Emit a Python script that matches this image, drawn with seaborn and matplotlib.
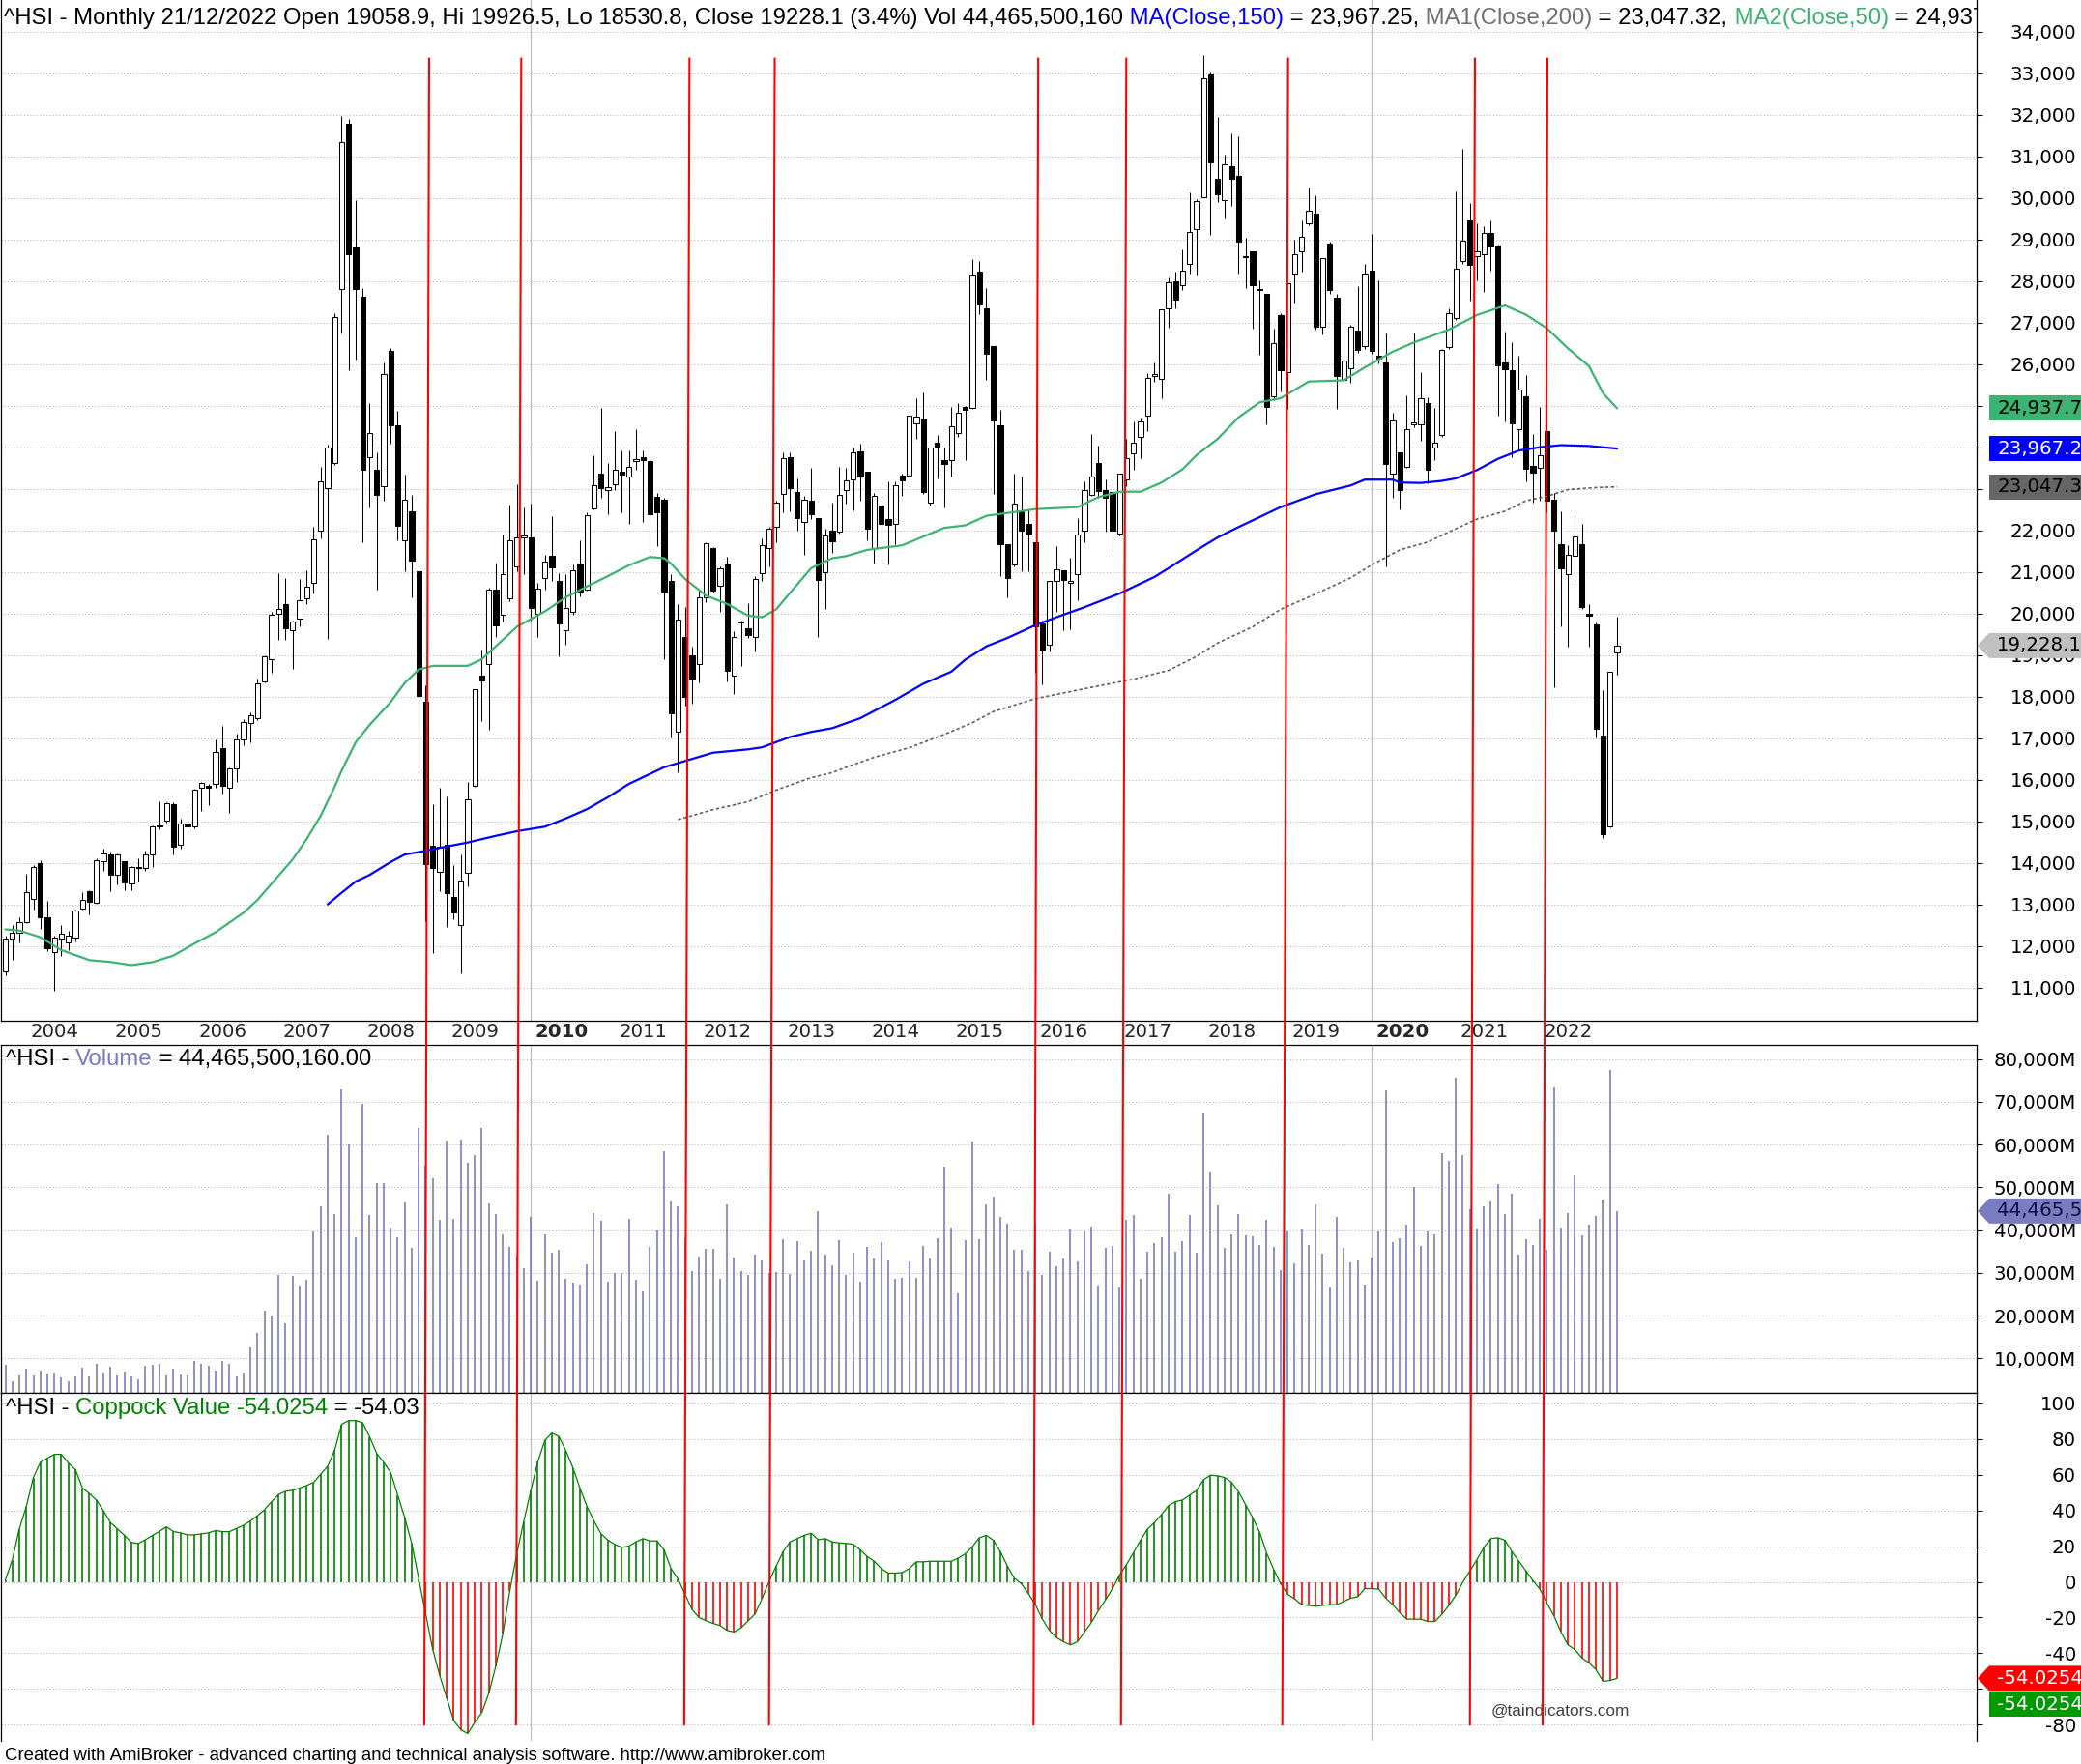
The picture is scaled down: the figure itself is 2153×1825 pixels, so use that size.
import numpy as np
import pandas as pd
import matplotlib
matplotlib.use("Agg")
import matplotlib.pyplot as plt
import matplotlib.transforms as mtransforms
from matplotlib.patches import Polygon, ConnectionPatch
import seaborn as sns

# Hang Seng Index monthly bars, Oct 2003 .. Dec 2022
first_month = "2003-10"

opens = [
    11380, 12190, 12317,
    12576, 13140, 14000, 12680, 11850, 12180, 12080, 12210, 12900, 13310, 13030, 14040,
    14200, 13720, 14040, 13500, 13908, 13870, 14200, 14880, 15010, 15400, 14440, 14937,
    14876, 15800, 15850, 15890, 16750, 15800, 16270, 16970, 17370, 17480, 18370, 18890,
    19990, 20230, 19600, 19880, 20360, 20740, 21990, 23010, 23610, 27800, 31790, 28800,
    27620, 23760, 23450, 23060, 26313, 24520, 21770, 22460, 21020, 17870, 14410, 13780,
    14440, 13190, 12500, 13750, 15860, 18500, 18780, 20570, 19962, 20355, 21141, 21830,
    21830, 19994, 20858, 21393, 20780, 19600, 20040, 21204, 20575, 22524, 23373, 22980,
    23106, 23420, 23295, 23656, 23766, 23672, 22807, 22744, 20780, 17163, 19444, 19003,
    18783, 20386, 21566, 20669, 21204, 18500, 19790, 19648, 19444, 20968, 21566, 22084,
    22870, 23750, 22933, 22194, 22713, 22304, 20984, 21990, 21958, 22980, 23216, 23908,
    23420, 21566, 22587, 22273, 22163, 23326, 23326, 24584, 24678, 22666, 24113, 23688,
    23688, 24348, 24960, 24945, 28215, 27350, 26439, 24521, 21675, 21173, 22461, 22147,
    21723, 19758, 19239, 20780, 21047, 20748, 20937, 21990, 22854, 23609, 22980, 22933,
    21927, 23216, 23845, 24238, 24757, 25720, 25653, 27335, 27995, 27901, 28404, 29237,
    30023, 32962, 30447, 29945, 30762, 30526, 28593, 28718, 27806, 27696, 25228, 27178,
    25810, 28168, 28718, 29378, 29630, 26910, 28907, 27586, 25621, 25888, 26800, 26439,
    28247, 26203, 26045, 23373, 23876, 23530, 24560, 24552, 25056, 24002, 24285, 26407,
    27099, 28482, 29457, 28608, 28639, 29158, 28844, 26045, 25857, 24442, 25228, 23562,
    23499, 24395, 22744, 21675, 20937, 21393, 21675, 19994, 19727, 17054, 14884, 19058.9,
]

highs = [
    12260, 12500, 12680,
    13740, 13940, 14060, 13090, 12260, 12500, 12360, 12880, 13290, 13330, 14100, 14340,
    14270, 14230, 14040, 13930, 14100, 14290, 14900, 15470, 15450, 15466, 15070, 15240,
    15780, 15950, 15900, 16960, 17300, 16300, 17100, 17460, 17630, 18430, 19000, 20050,
    20970, 20860, 19840, 20830, 21050, 22085, 23530, 24060, 27230, 31960, 31900, 29945,
    27820, 25070, 23870, 26050, 26390, 24870, 23330, 22860, 21050, 18270, 15400, 15800,
    15600, 13940, 14200, 15950, 18180, 19130, 20620, 21200, 21900, 22620, 23100, 22556,
    22634, 20733, 21408, 22351, 20968, 20937, 21173, 21770, 22430, 23813, 24945, 23610,
    24395, 23924, 23924, 24442, 23924, 23700, 22900, 22776, 20937, 20229, 20151, 19208,
    20575, 21723, 21600, 21141, 21361, 19570, 19836, 20260, 20890, 21801, 22084, 22713,
    23876, 23876, 23247, 22823, 23499, 22304, 22037, 22666, 23530, 23499, 24002, 24081,
    23420, 22902, 22823, 23184, 23184, 23373, 24867, 25181, 25323, 23998, 24285, 24002,
    24976, 25071, 25000, 28529, 28482, 27822, 26439, 24898, 21675, 23373, 23294, 22508,
    21723, 19836, 20780, 21613, 21047, 21330, 22304, 23184, 24317, 24034, 23216, 23216,
    23373, 24191, 24631, 24710, 25779, 26045, 27324, 28089, 28215, 28765, 30133, 29976,
    33434, 33025, 31940, 31045, 31548, 31470, 29032, 28718, 28011, 27696, 26863, 27225,
    27942, 29001, 29457, 30243, 30054, 28561, 28954, 27696, 27335, 26957, 27885, 28404,
    29143, 28011, 26753, 24820, 23876, 25260, 26753, 25810, 25212, 24945, 26360, 27335,
    30164, 31183, 29866, 29378, 29315, 29457, 28875, 26785, 26517, 26203, 25731, 24317,
    24976, 25024, 22901, 22461, 21644, 22398, 22147, 20229, 19790, 18154, 18597, 19926.5,
]

lows = [
    11300, 11670, 12090,
    12560, 12870, 12400, 11880, 10920, 11770, 11900, 12100, 12870, 12770, 13020, 13800,
    13310, 13470, 13340, 13340, 13550, 13800, 13900, 14800, 14970, 14208, 14330, 14850,
    14830, 15260, 15390, 15800, 15670, 15200, 15950, 16820, 16900, 17440, 18340, 18580,
    19370, 19370, 18660, 19680, 20230, 20470, 21800, 19390, 23570, 26750, 25860, 26120,
    21709, 22560, 20572, 22710, 24080, 21770, 21015, 20390, 16270, 12600, 11820, 13310,
    12450, 12650, 11344, 13440, 15830, 17400, 17210, 19440, 19800, 20300, 21015, 20937,
    19836, 19444, 20575, 20780, 18972, 19255, 19962, 20418, 20544, 22508, 22776, 22398,
    22980, 22430, 22147, 23452, 22200, 21487, 21613, 18893, 17007, 16170, 17793, 17840,
    18343, 20261, 20512, 20040, 18374, 18060, 18736, 19412, 19097, 20780, 21141, 21723,
    22430, 22461, 21990, 21408, 22273, 19444, 20119, 21455, 21927, 22634, 22477, 22713,
    21770, 21204, 21204, 21173, 21675, 22823, 23106, 24191, 22870, 22587, 23247, 22556,
    23295, 24238, 23688, 24914, 27194, 25621, 22870, 20890, 20386, 21141, 21015, 21015,
    18578, 18296, 19097, 20040, 19601, 19632, 20308, 21723, 22823, 22776, 21958, 21487,
    21880, 23059, 23452, 23735, 24395, 25574, 25181, 26879, 27335, 27775, 28168, 28136,
    30007, 29111, 29897, 29504, 29818, 28168, 27822, 26863, 26234, 24553, 25134, 25338,
    24914, 27492, 28215, 29347, 26832, 26706, 27696, 24914, 25574, 25542, 26266, 26360,
    26250, 26015, 21139, 22776, 22508, 23499, 24480, 24160, 23137, 23688, 24238, 26360,
    27068, 28404, 27539, 28011, 27728, 28247, 24757, 24631, 23766, 23924, 23185, 22666,
    22713, 22430, 18235, 19680, 19208, 20701, 20104, 19208, 17007, 14597, 14852, 18530.8,
]

closes = [
    12190, 12317, 12576,
    13289, 13908, 12681, 11942, 12198, 12286, 12238, 12850, 13120, 13055, 14060, 14230,
    13721, 14196, 13516, 13908, 13867, 14201, 14880, 14903, 15429, 14386, 14937, 14876,
    15753, 15918, 15805, 16661, 15857, 16267, 16971, 17392, 17543, 18324, 18960, 19965,
    20107, 19651, 19800, 20318, 20634, 21773, 23185, 23984, 27142, 31352, 28643, 27812,
    23456, 24332, 22849, 25755, 24533, 22102, 22731, 21261, 18016, 13969, 13888, 14387,
    13278, 12811, 13576, 15521, 18171, 18379, 20573, 19724, 20955, 21752, 21821, 21873,
    20122, 20608, 21239, 21108, 19765, 20129, 21030, 20537, 22359, 23096, 23007, 23035,
    23447, 23338, 23528, 23721, 23684, 22398, 22440, 20535, 17592, 19864, 17989, 18434,
    20390, 21680, 20556, 21094, 18630, 19441, 19796, 19483, 20840, 21642, 22030, 22657,
    23730, 23020, 22300, 22737, 22392, 20803, 21883, 21731, 22860, 23206, 23882, 23306,
    22035, 22837, 22151, 22134, 23082, 23191, 24757, 24742, 22933, 23998, 23987, 23605,
    24507, 24823, 24901, 28133, 27424, 26250, 24636, 21670, 20846, 22640, 21996, 21914,
    19683, 19112, 20777, 21067, 20815, 20794, 21891, 22977, 23297, 22935, 22790, 22001,
    23361, 23741, 24112, 24615, 25661, 25765, 27324, 27970, 27554, 28246, 29177, 29919,
    32887, 30845, 30093, 30808, 30469, 28955, 28583, 27889, 27789, 24980, 26507, 25846,
    27942, 28633, 29051, 29699, 26901, 28543, 27778, 25725, 26092, 26907, 26346, 28190,
    26313, 26130, 23603, 24644, 22961, 24427, 24595, 25177, 23459, 24107, 26341, 27231,
    28284, 28980, 28378, 28725, 29152, 28828, 25961, 25879, 24576, 25377, 23475, 23398,
    23802, 22713, 21997, 21089, 21415, 21860, 20157, 19954, 17223, 14687, 18597, 19228.1,
]

# volume in millions
volume_m = [
    8570, 4650, 6000,
    7660, 6000, 7210, 6460, 6680, 5550, 4650, 5780, 7810, 5780, 8720, 6680,
    8040, 6080, 6910, 5780, 5180, 8270, 8490, 8720, 6080, 7590, 6230, 6080,
    9400, 8720, 8270, 7130, 9400, 8720, 5780, 6680, 12560, 15950, 21150, 20020,
    29510, 18210, 29280, 27020, 28380, 39680, 45570, 62300, 43760, 72920, 60040, 38340,
    69460, 43540, 51000, 51000, 40600, 38340, 46470, 35850, 63880, 55000, 52130, 42400,
    60940, 42620, 61170, 55740, 57550, 63880, 46240, 43760, 39020, 36080, 34000, 31100,
    43080, 28150, 39020, 34720, 35400, 28600, 27700, 27250, 31990, 43980, 42170, 27930,
    29960, 29960, 42620, 28380, 25670, 36080, 39920, 58450, 46700, 45570, 38000, 30410,
    33800, 35600, 35600, 28600, 46020, 33570, 30410, 29510, 34250, 32890, 30000, 30180,
    37890, 29740, 37430, 32890, 35150, 44420, 34250, 31760, 37660, 29510, 34720, 27930,
    36080, 33350, 37200, 32890, 28600, 28830, 32660, 28830, 36300, 33350, 38110, 54840,
    40600, 25220, 37660, 60710, 37890, 46020, 47830, 43080, 41500, 35400, 35400, 30410,
    41720, 29510, 34940, 31540, 33350, 40130, 32660, 39680, 40810, 27020, 35850, 36300,
    26570, 42400, 43530, 28600, 34940, 36980, 38340, 48510, 34940, 37430, 43530, 34720,
    67270, 53480, 45790, 35850, 39020, 43760, 38790, 38560, 36530, 42400, 36080, 30640,
    39680, 32210, 40130, 36530, 46020, 34490, 26570, 43080, 35850, 32440, 32890, 27250,
    33580, 39680, 72700, 37200, 38110, 41270, 50090, 36300, 39680, 39020, 58000, 56190,
    75640, 57550, 45000, 40370, 45570, 46700, 50770, 43760, 48510, 34250, 37890, 36530,
    42620, 35400, 73370, 40600, 43980, 52800, 38790, 41270, 43310, 47150, 77450, 44466,
]

coppock = [
    1.0, 12.4, 29.6,
    42.2, 58.4, 66.9, 69.2, 71.4, 71.4, 66.5, 62.9, 52.5, 49.4, 45.8, 39.8,
    33.2, 29.6, 26.0, 22.0, 21.5, 23.6, 26.0, 28.3, 30.8, 28.1, 27.4, 26.3,
    26.3, 26.9, 27.4, 28.7, 28.1, 28.1, 29.9, 31.7, 34.1, 37.1, 40.4, 44.9,
    48.9, 50.7, 51.2, 52.5, 53.9, 55.7, 60.2, 64.7, 73.7, 88.2, 90.3, 90.3,
    89.1, 81.0, 71.9, 66.9, 61.1, 48.5, 35.9, 21.5, 1.5, -18.2, -38.0, -52.5,
    -65.1, -77.7, -82.8, -84.9, -78.6, -73.2, -62.4, -47.1, -29.0, -5.0, 16.0, 34.1,
    51.2, 67.4, 79.2, 83.3, 81.3, 73.4, 63.8, 52.5, 42.2, 34.1, 26.9, 23.3,
    20.9, 19.3, 20.0, 22.4, 24.2, 22.9, 22.9, 17.9, 7.4, 1.6, -7.0, -15.5,
    -20.0, -21.8, -23.3, -24.5, -27.2, -28.1, -25.8, -21.8, -17.9, -9.2, 0.3, 8.8,
    16.9, 22.4, 24.2, 26.0, 27.2, 23.6, 24.2, 22.4, 21.8, 21.5, 21.1, 17.9,
    14.2, 11.5, 7.4, 4.9, 4.9, 5.2, 7.4, 11.2, 11.2, 11.5, 11.5, 11.5,
    11.5, 13.3, 15.7, 19.7, 24.7, 26.0, 23.3, 16.9, 8.8, 2.0, -1.1, -6.5,
    -12.8, -20.9, -27.2, -31.2, -33.5, -35.3, -33.5, -28.1, -22.7, -16.0, -10.1, -3.8,
    3.8, 9.7, 16.4, 23.3, 29.6, 33.2, 37.7, 42.7, 44.9, 45.8, 48.5, 51.2,
    57.2, 59.7, 59.3, 58.4, 55.7, 50.3, 43.1, 35.9, 27.8, 16.0, 7.0, -1.1,
    -7.0, -9.6, -12.8, -13.2, -13.7, -13.2, -12.8, -12.8, -11.0, -9.2, -8.3, -3.8,
    -3.8, -4.1, -9.2, -12.8, -17.3, -20.9, -20.9, -20.9, -22.2, -22.2, -18.2, -13.2,
    -7.4, -0.2, 6.1, 12.4, 19.3, 24.2, 24.7, 23.3, 16.9, 11.5, 6.1, 0.7,
    -4.1, -11.9, -19.1, -28.1, -35.3, -38.0, -42.6, -45.3, -49.2, -55.7, -55.2, -54.03,
]

# moving averages, sampled along the drawn curves (bar index, value)
ma50_idx = [0, 2, 5, 8, 12, 15, 18, 21, 24, 27, 30, 34, 36, 38, 41, 43, 45, 47, 48, 50,
            52, 55, 57, 59, 61, 66, 68, 70, 73, 77, 80, 83, 86, 89, 92, 94, 95, 97, 100, 103,
            106, 108, 110, 112, 115, 118, 120, 123, 128, 134, 137, 140, 147, 153, 156, 159, 162, 165, 168, 170,
            173, 176, 179, 182, 186, 191, 194, 198, 201, 206, 210, 214, 217, 220, 223, 226, 228, 230]
ma50_val = [12400, 12370, 12210, 11900, 11660, 11615, 11540, 11610, 11770, 12060, 12330, 12800, 13110, 13500, 14080, 14570, 15130, 15830, 16220, 16900,
            17320, 17870, 18330, 18650, 18740, 18740, 18900, 19210, 19680, 20050, 20390, 20650, 20900, 21160, 21360, 21330, 21200, 20830, 20430, 20230,
            19950, 19910, 20100, 20500, 21090, 21330, 21380, 21530, 21640, 22060, 22120, 22350, 22510, 22560, 22800, 22930, 22930, 23150, 23470, 23810,
            24200, 24720, 25080, 25180, 25580, 25610, 25920, 26300, 26520, 26830, 27180, 27410, 27190, 26860, 26380, 25950, 25300, 24938]

ma150_idx = [46, 48, 50, 52, 55, 57, 60, 62, 66, 70, 73, 77, 80, 83, 86, 89, 92, 94, 97, 101,
             106, 108, 112, 115, 118, 122, 127, 131, 135, 137, 140, 143, 147, 150, 154, 159, 164, 166, 170, 173,
             176, 178, 182, 187, 192, 194, 198, 199, 202, 205, 207, 210, 213, 216, 219, 222, 226, 230]
ma150_val = [13000, 13280, 13550, 13710, 14020, 14200, 14290, 14360, 14490, 14650, 14760, 14870, 15070, 15290, 15580, 15900, 16140, 16300, 16450, 16650,
             16730, 16780, 17030, 17150, 17240, 17480, 17920, 18310, 18600, 18890, 19210, 19410, 19720, 19910, 20150, 20480, 20880, 21090, 21520, 21830,
             22080, 22240, 22560, 22870, 23080, 23220, 23220, 23150, 23140, 23190, 23250, 23450, 23720, 23920, 24000, 24050, 24030, 23967]

ma200_idx = [96, 101, 106, 110, 115, 118, 120, 124, 129, 134, 138, 141, 147, 154, 161, 166, 170, 173, 176, 178,
             182, 187, 192, 195, 199, 203, 206, 210, 214, 217, 220, 223, 227, 230]
ma200_val = [15040, 15280, 15470, 15750, 16050, 16170, 16300, 16540, 16770, 17090, 17370, 17640, 17950, 18190, 18420, 18630, 18970, 19290, 19520, 19680,
             20100, 20470, 20860, 21170, 21530, 21720, 21960, 22270, 22460, 22710, 22820, 22980, 23030, 23047]

# hand drawn red signal lines (bar index at upper and lower end)
signal_top = [60.48, 73.63, 97.63, 109.8, 147.4, 159.97, 183.06, 209.72, 220.07]
signal_bottom = [59.79, 72.88, 96.88, 108.99, 146.73, 159.21, 182.23, 209.0, 219.38]

# scale labels that sit under the value tags on the right
covered_price_labels = [23000, 24000, 25000]
covered_cop_labels = [-60]

# ---------------------------------------------------------------------------
sns.set_style("white")
plt.rcParams["font.family"] = ["DejaVu Sans"]
TITLE_FONT = ["Liberation Sans", "DejaVu Sans"]
AXIS_SIZE = 14.2

W, H, DPI = 2153, 1825, 100
fig = plt.figure(figsize=(W / DPI, H / DPI), dpi=DPI, facecolor="white")


def axes_px(x0, y0, x1, y1):
    return fig.add_axes([x0 / W, 1 - y1 / H, (x1 - x0) / W, (y1 - y0) / H])


ax_p = axes_px(1, 0, 2045, 1056)
ax_v = axes_px(1, 1081, 2045, 1441)
ax_c = axes_px(1, 1441, 2045, 1801)

months = pd.period_range(first_month, periods=len(closes), freq="M")
df = pd.DataFrame({"open": opens, "high": highs, "low": lows, "close": closes,
                   "volume": volume_m, "coppock": coppock})
df["x"] = np.arange(len(df))

# candles
up = df["close"] >= df["open"]
ax_p.vlines(df["x"], df["low"], df["high"], color="black", lw=0.75, zorder=2)
ax_p.bar(df["x"], (df["close"] - df["open"]).abs(), bottom=np.minimum(df["open"], df["close"]),
         width=0.72, color=np.where(up, "white", "black"), edgecolor="black", linewidth=0.75, zorder=3)

# moving averages
sns.lineplot(x=ma50_idx, y=ma50_val, ax=ax_p, color="#3cb371", linewidth=1.6, zorder=4)
sns.lineplot(x=ma150_idx, y=ma150_val, ax=ax_p, color="#0000ff", linewidth=1.6, zorder=4)
sns.lineplot(x=ma200_idx, y=ma200_val, ax=ax_p, color="#606060", linewidth=1.2,
             linestyle=(0, (2, 1.5)), zorder=4)

# volume
ax_v.vlines(df["x"], 0, df["volume"], color="#7b7bc2", lw=1.2, zorder=2)

# coppock histogram + line
ax_c.vlines(df["x"], 0, df["coppock"], colors=np.where(df["coppock"] >= 0, "#008000", "#ff0000"),
            lw=1.2, zorder=2)
sns.lineplot(x=df["x"], y=df["coppock"], ax=ax_c, color="#008000", linewidth=0.9, zorder=3)

xlim = ((1 - 5.5) / 7.25, (2045 - 5.5) / 7.25)
ax_p.set_ylim(10202, 34760)
ax_v.set_ylim(1931, 83323)
ax_c.set_ylim(-89.0, 105.8)

price_ticks = list(range(11000, 34001, 1000))
vol_ticks = list(range(10000, 80001, 10000))
cop_ticks = list(range(-80, 101, 20))
price_labels = ["" if t in covered_price_labels else f"{t:,}" for t in price_ticks]
cop_labels = ["" if t in covered_cop_labels else str(t) for t in cop_ticks]
for ax, ticks, labels in [
    (ax_p, price_ticks, price_labels),
    (ax_v, vol_ticks, [f"{t:,}M" for t in vol_ticks]),
    (ax_c, cop_ticks, cop_labels),
]:
    ax.set_xlim(*xlim)
    ax.set_xlabel("")
    ax.set_ylabel("")
    ax.yaxis.tick_right()
    ax.set_yticks(ticks)
    ax.set_yticklabels(labels)
    ax.tick_params(axis="y", direction="out", length=4.3, width=0.75, pad=69.8,
                   labelsize=AXIS_SIZE, colors="black")
    plt.setp(ax.get_yticklabels(), ha="right")
    ax.grid(axis="y", color="#b8b8b8", linestyle=(0, (1, 2)), linewidth=0.8)
    ax.grid(axis="x", visible=False)
    ax.set_axisbelow(True)
    for side in ["left", "right", "top", "bottom"]:
        ax.spines[side].set_color("black")
        ax.spines[side].set_linewidth(0.9)
    ax.set_facecolor("white")

ax_p.spines["top"].set_visible(False)
ax_c.spines["bottom"].set_visible(False)

# decade separators
for i, m in enumerate(months):
    if m.month == 1 and m.year % 10 == 0:
        for ax in (ax_p, ax_v, ax_c):
            ax.axvline(i, color="#bdbdbd", lw=0.9, zorder=1)

# year axis between price and volume panes
year_idx = [i for i, m in enumerate(months) if m.month == 1]
ax_p.set_xticks(year_idx)
ax_p.set_xticklabels([str(months[i].year) for i in year_idx])
ax_p.tick_params(axis="x", direction="out", length=3.6, width=0.75, pad=5, labelsize=AXIS_SIZE)
plt.setp(ax_p.get_xticklabels(), ha="left", va="center")
shift = mtransforms.ScaledTranslation(3 / 72, 0, fig.dpi_scale_trans)
for lab in ax_p.get_xticklabels():
    lab.set_transform(lab.get_transform() + shift)
    if lab.get_text() in ("2010", "2020"):
        lab.set_fontweight("bold")
for ax in (ax_v, ax_c):
    ax.set_xticks([])

# red signal lines across all panes
for top_i, bot_i in zip(signal_top, signal_bottom):
    con = ConnectionPatch(xyA=(top_i, 33356), coordsA=ax_p.transData,
                          xyB=(bot_i, -80), coordsB=ax_c.transData,
                          color="#ff0000", lw=1.5, zorder=6)
    con.set_annotation_clip(False)
    fig.add_artist(con)

# multi-coloured titles
renderer = fig.canvas.get_renderer()


def chain_text(x_px, baseline_px, pieces, size, clip_ax=None):
    x = x_px
    for s, c in pieces:
        t = fig.text(x / W, 1 - baseline_px / H, s, color=c, fontsize=size,
                     family=TITLE_FONT, ha="left", va="baseline", zorder=7)
        if clip_ax is not None:
            t.set_clip_box(clip_ax.bbox)
            t.set_clip_on(True)
        x += t.get_window_extent(renderer=renderer).width


chain_text(4, 25, [
    ("^HSI - Monthly 21/12/2022 Open 19058.9, Hi 19926.5, Lo 18530.8, Close 19228.1 (3.4%) Vol 44,465,500,160", "black"),
    (" MA(Close,150)", "#0000ff"),
    (" = 23,967.25,", "black"),
    (" MA1(Close,200)", "#707070"),
    (" = 23,047.32,", "black"),
    (" MA2(Close,50)", "#3cb371"),
    (" = 24,937.70", "black"),
], 17.2, clip_ax=ax_p)
chain_text(6, 1102, [("^HSI - ", "black"), ("Volume", "#7b7bc2"),
                     (" = 44,465,500,160.00", "black")], 17.2)
chain_text(6, 1463, [("^HSI - ", "black"), ("Coppock Value -54.0254", "#008000"),
                     (" = -54.03", "black")], 17.2)

fig.text(1686 / W, 1 - 1775 / H, "@taindicators.com", color="#404040", fontsize=12.4,
         family=TITLE_FONT, ha="right", va="baseline")
fig.text(5 / W, 1 - 1821 / H,
         "Created with AmiBroker - advanced charting and technical analysis software. http://www.amibroker.com",
         color="black", fontsize=13.4, family=TITLE_FONT, ha="left", va="baseline")


# value tags on the right scale
def value_tag(ax, value, text, face, fg, arrow=False, dy=0):
    y = ax.transData.transform((0, value))[1] - dy
    h = 13
    x_tip, x_body, x_end = 2046, 2058, W + 10
    if arrow:
        verts = [(x_tip, y), (x_body, y + h), (x_end, y + h), (x_end, y - h), (x_body, y - h)]
    else:
        verts = [(x_body, y + h), (x_end, y + h), (x_end, y - h), (x_body, y - h)]
    fig.add_artist(Polygon(verts, closed=True, facecolor=face, edgecolor="none",
                           transform=mtransforms.IdentityTransform(), zorder=8))
    fig.text(2066 / W, y / H, text, color=fg, fontsize=AXIS_SIZE, ha="left", va="center", zorder=9)


value_tag(ax_p, 24937.7, "24,937.7", "#3cb371", "black")
value_tag(ax_p, 23967.25, "23,967.2", "#0000ff", "white")
value_tag(ax_p, 23047.32, "23,047.3", "#666666", "black")
value_tag(ax_p, closes[-1], "19,228.1", "#c0c0c0", "black", arrow=True)
value_tag(ax_v, volume_m[-1], "44,465,500,160", "#7b7bc2", "#101040", arrow=True)
value_tag(ax_c, coppock[-1], "-54.0254", "#ff0000", "white", arrow=True)
value_tag(ax_c, coppock[-1], "-54.0254", "#009a00", "white", dy=27)

fig.savefig("out.png", dpi=DPI, facecolor="white")
